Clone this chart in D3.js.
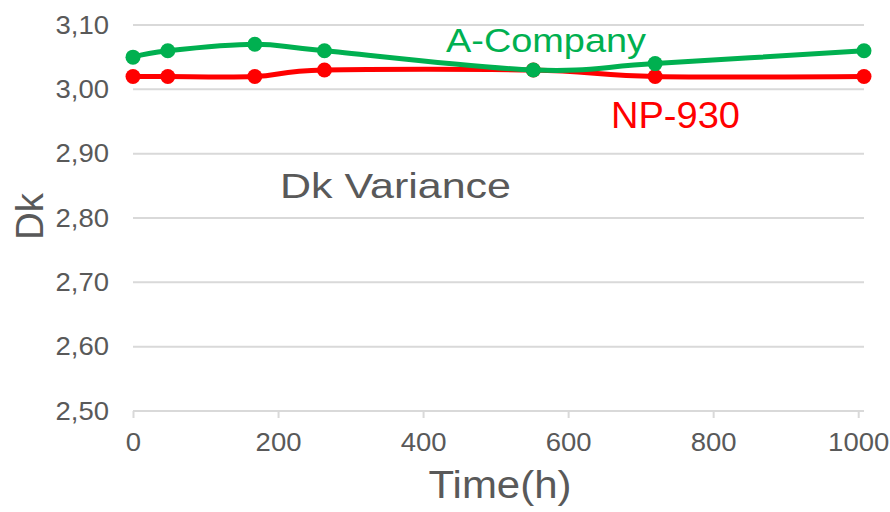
<!DOCTYPE html>
<html>
<head>
<meta charset="utf-8">
<script src="https://cdn.jsdelivr.net/npm/d3@7/dist/d3.min.js"></script>
<style>
  html, body { margin: 0; padding: 0; background: #fff; }
  svg { display: block; font-family: "Liberation Sans", Arial, sans-serif; }
</style>
</head>
<body>
<svg id="chart" width="890" height="512"></svg>
<script>
// Measurement times (hours)
const hours = [0, 48, 168, 264, 552, 720, 1008];
// Dk values per material
const aCompany = [3.05, 3.06, 3.07, 3.06, 3.03, 3.04, 3.06];
const np930 = [3.02, 3.02, 3.02, 3.03, 3.03, 3.02, 3.02];
// Axis ticks
const yTicks = [2.5, 2.6, 2.7, 2.8, 2.9, 3.0, 3.1];
const xTicks = [0, 200, 400, 600, 800, 1000];

const svg = d3.select("#chart");
const textGray = "#595959";
const gridGray = "#d9d9d9";

const x = d3.scaleLinear().domain([0, 1008]).range([133, 864]);
const y = d3.scaleLinear().domain([2.5, 3.1]).range([411, 25]);

// stretch text horizontally by a factor, keeping its font height
function widen(sel, k) {
  sel.each(function () {
    const w = this.getComputedTextLength();
    d3.select(this).attr("textLength", w * k).attr("lengthAdjust", "spacingAndGlyphs");
  });
}

// Horizontal gridlines
svg.append("g").selectAll("line")
  .data(yTicks.slice(1))
  .join("line")
  .attr("x1", x(0)).attr("x2", x(1008))
  .attr("y1", d => y(d)).attr("y2", d => y(d))
  .attr("stroke", gridGray).attr("stroke-width", 2);

// X axis
const xAxis = svg.append("g")
  .attr("transform", `translate(0,${y(2.5)})`)
  .call(d3.axisBottom(x).tickValues(xTicks).tickSize(7).tickPadding(10).tickFormat(d3.format("d")));
xAxis.select(".domain").attr("stroke", gridGray).attr("stroke-width", 2)
  .attr("d", `M${x(0)},0H${x(1008)}`);
xAxis.selectAll(".tick line").attr("stroke", gridGray).attr("stroke-width", 2);
xAxis.selectAll(".tick text")
  .attr("fill", textGray).attr("font-size", 25)
  .attr("font-family", "Liberation Sans, Arial, sans-serif")
  .attr("dy", "0.71em").attr("y", 22)
  .call(widen, 1.1);

// Y axis labels (comma decimal)
const fmt = d => d.toFixed(2).replace(".", ",");
const yAxis = svg.append("g")
  .attr("transform", `translate(${x(0)},0)`)
  .call(d3.axisLeft(y).tickValues(yTicks).tickSize(0).tickPadding(24).tickFormat(fmt));
yAxis.select(".domain").remove();
yAxis.selectAll(".tick text")
  .attr("fill", textGray).attr("font-size", 25)
  .attr("font-family", "Liberation Sans, Arial, sans-serif")
  .call(widen, 1.1);

// Series lines and markers
const series = [
  { name: "NP-930", values: np930, color: "#ff0000" },
  { name: "A-Company", values: aCompany, color: "#00b050" }
];
const line = d3.line()
  .x((d, i) => x(hours[i]))
  .y(d => y(d))
  .curve(d3.curveCardinal.tension(0));

series.forEach(s => {
  svg.append("path")
    .datum(s.values)
    .attr("d", line)
    .attr("fill", "none")
    .attr("stroke", s.color)
    .attr("stroke-width", 5)
    .attr("stroke-linejoin", "round");
  svg.append("g").selectAll("circle")
    .data(s.values)
    .join("circle")
    .attr("cx", (d, i) => x(hours[i]))
    .attr("cy", d => y(d))
    .attr("r", 7.5)
    .attr("fill", s.color);
});

// Series labels
svg.append("text").text("A-Company")
  .attr("x", 446).attr("y", 52)
  .attr("font-size", 34).attr("fill", "#00b050")
  .attr("textLength", 200).attr("lengthAdjust", "spacingAndGlyphs");
svg.append("text").text("NP-930")
  .attr("x", 611).attr("y", 128)
  .attr("font-size", 36).attr("fill", "#ff0000")
  .attr("textLength", 129).attr("lengthAdjust", "spacingAndGlyphs");

// Chart title inside plot
svg.append("text").text("Dk Variance")
  .attr("x", 280).attr("y", 198)
  .attr("font-size", 35).attr("fill", textGray)
  .attr("textLength", 231).attr("lengthAdjust", "spacingAndGlyphs");

// Axis titles
svg.append("text").text("Time(h)")
  .attr("x", 500).attr("y", 498)
  .attr("text-anchor", "middle")
  .attr("font-size", 39).attr("fill", textGray)
  .attr("textLength", 143).attr("lengthAdjust", "spacingAndGlyphs");
svg.append("text").text("Dk")
  .attr("transform", "translate(43,216.5) rotate(-90)")
  .attr("text-anchor", "middle")
  .attr("font-size", 39).attr("fill", textGray)
  .attr("textLength", 47).attr("lengthAdjust", "spacingAndGlyphs");
</script>
</body>
</html>
